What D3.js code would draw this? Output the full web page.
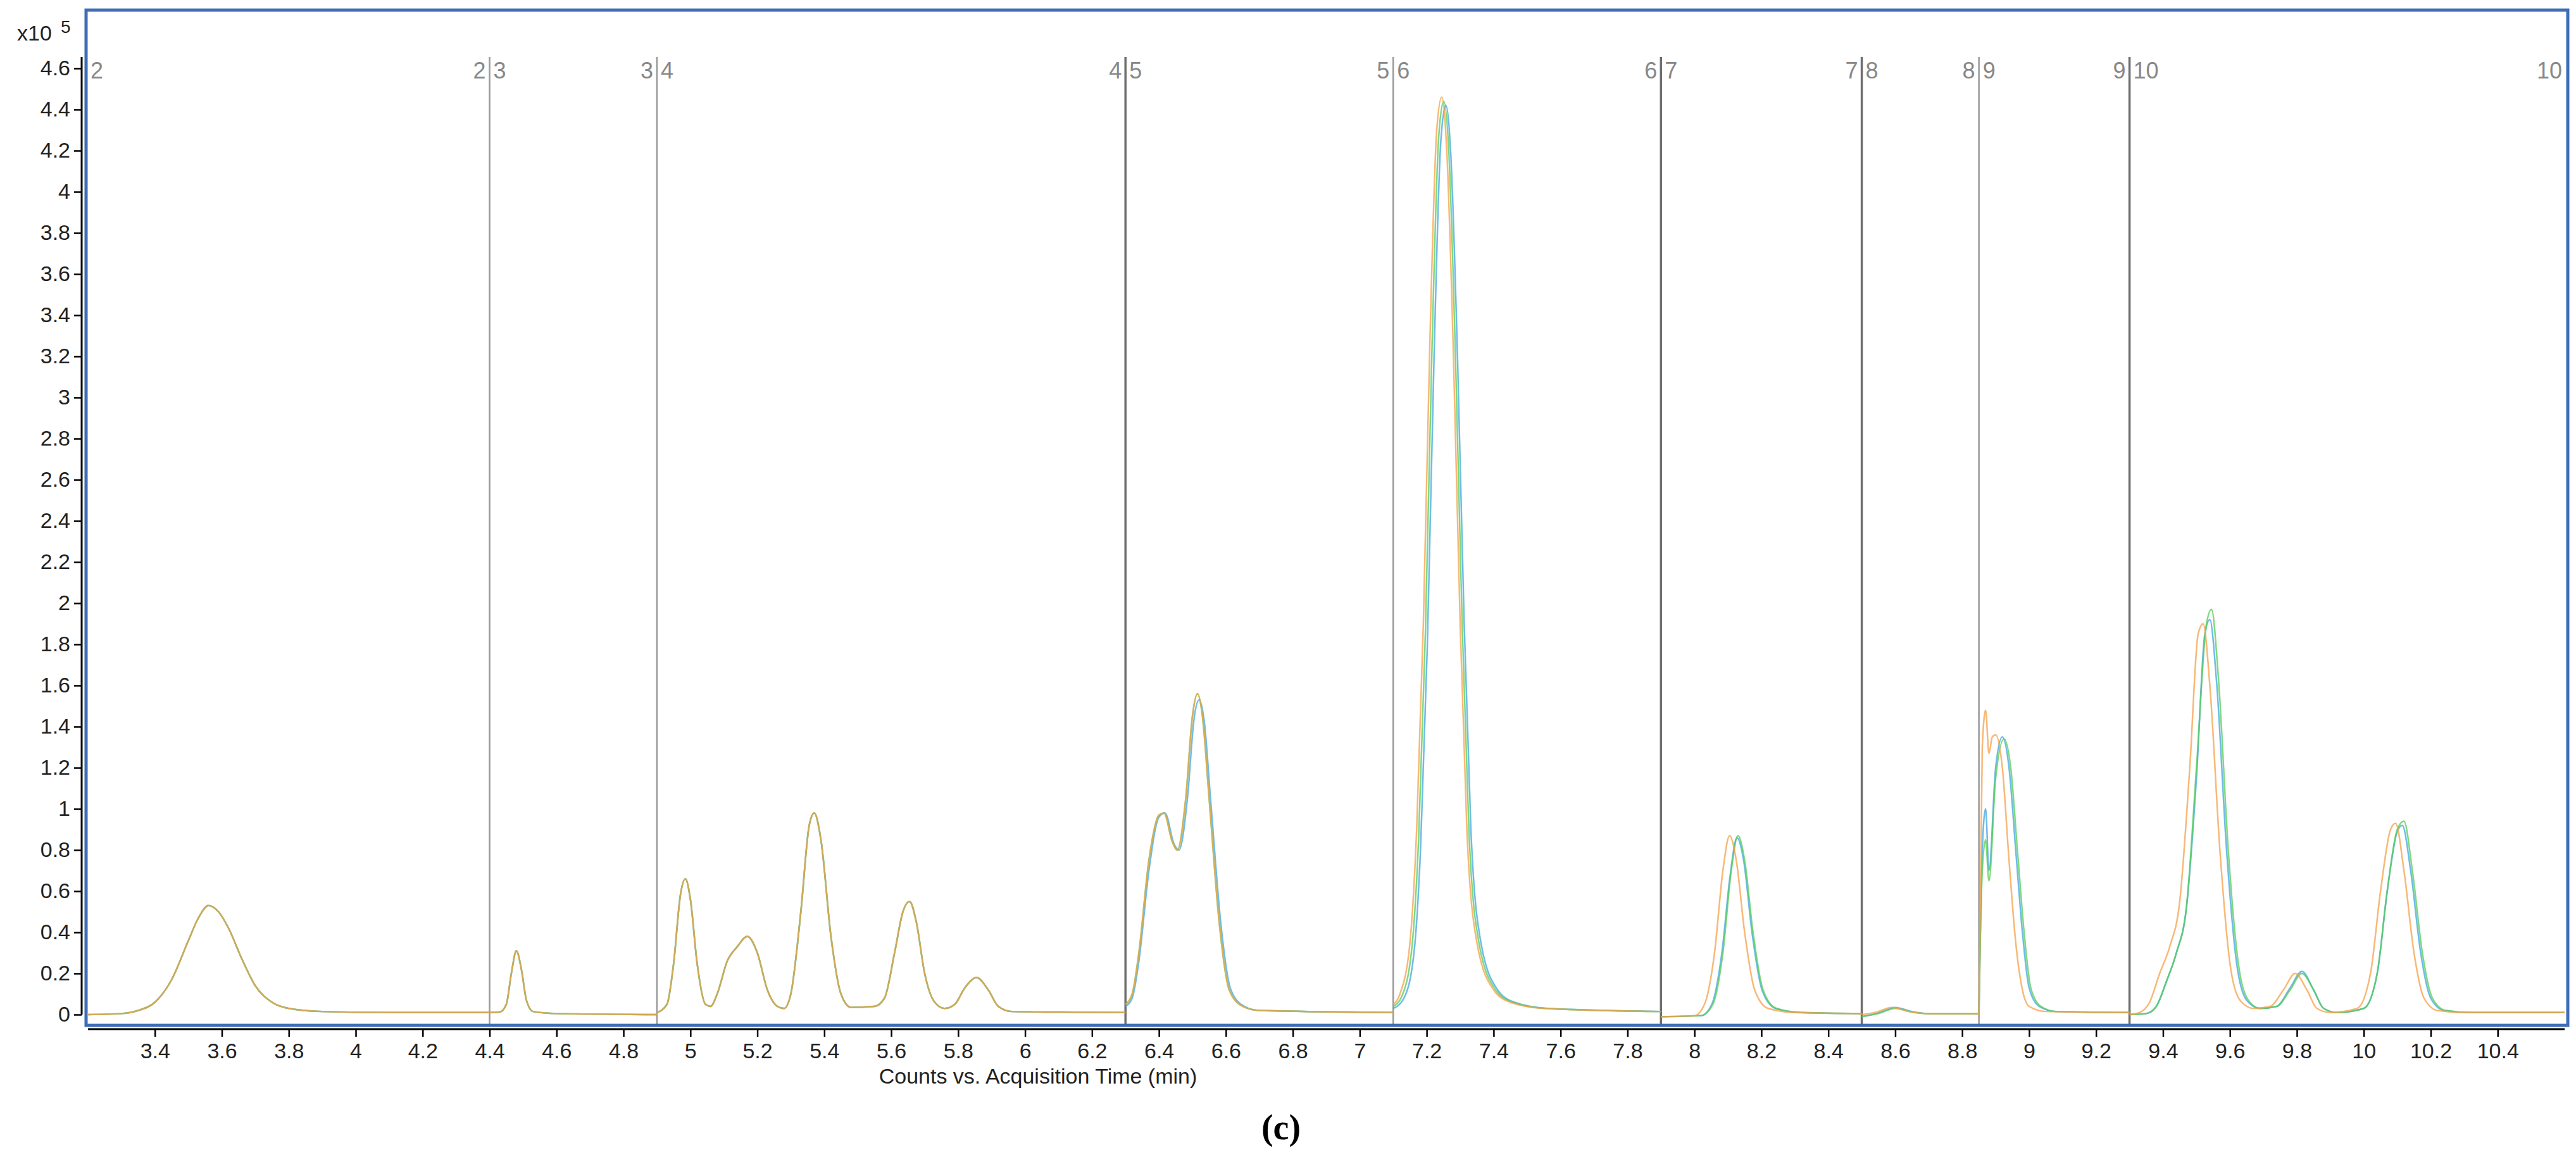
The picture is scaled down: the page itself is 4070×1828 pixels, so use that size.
<!DOCTYPE html>
<html>
<head>
<meta charset="utf-8">
<script src="https://cdn.jsdelivr.net/npm/d3@7/dist/d3.min.js"></script>
<style>
  body { margin: 0; background: #fff; }
  text { font-family: "Liberation Sans", Arial, sans-serif; }
</style>
</head>
<body>
<svg id="chart" width="4070" height="1828"></svg>
<script>
'use strict';

// segment boundaries (min) and their numbers
var boundaries = [4.4, 4.9, 6.3, 7.1, 7.9, 8.5, 8.85, 9.3];
var darkBoundaries = [6.3, 7.9, 8.5, 9.3];
var xTicks = d3.range(3.4, 10.41, 0.2);
var yTicks = d3.range(0, 4.61, 0.2);

// traces, [time (min), counts x10^5], one array per segment
var common1 = [[3.2,0.0],[3.3,0.005],[3.35,0.02],[3.4,0.06],[3.45,0.17],[3.5,0.36],[3.53,0.47],[3.56,0.53],[3.59,0.5],[3.62,0.42],[3.66,0.27],[3.7,0.14],[3.75,0.06],[3.8,0.03],[3.9,0.015],[4.1,0.01],[4.4,0.01]];
var common2 = [[4.4,0.01],[4.43,0.012],[4.45,0.05],[4.465,0.2],[4.48,0.31],[4.495,0.22],[4.51,0.07],[4.53,0.015],[4.6,0.005],[4.9,0.0]];
var common3 = [[4.9,0.01],[4.93,0.05],[4.95,0.25],[4.97,0.58],[4.985,0.66],[5.0,0.56],[5.02,0.25],[5.045,0.05],[5.06,0.04],[5.08,0.1],[5.11,0.26],[5.14,0.33],[5.17,0.38],[5.2,0.3],[5.23,0.12],[5.26,0.04],[5.28,0.03],[5.3,0.1],[5.33,0.5],[5.355,0.92],[5.37,0.98],[5.39,0.85],[5.42,0.38],[5.45,0.1],[5.48,0.035],[5.55,0.04],[5.58,0.08],[5.61,0.3],[5.635,0.5],[5.655,0.55],[5.675,0.45],[5.7,0.2],[5.73,0.06],[5.76,0.03],[5.79,0.05],[5.82,0.13],[5.855,0.18],[5.89,0.12],[5.92,0.04],[5.96,0.015],[6.1,0.012],[6.3,0.01]];
var common4 = [[6.3,0.05],[6.32,0.1],[6.34,0.3],[6.37,0.75],[6.4,0.97],[6.415,0.98],[6.44,0.84],[6.455,0.8],[6.48,1.05],[6.5,1.45],[6.515,1.56],[6.53,1.45],[6.55,1.05],[6.58,0.45],[6.61,0.12],[6.65,0.04],[6.7,0.02],[7.1,0.01]];
var blue4 = [[6.3,0.04],[6.32,0.08],[6.34,0.26],[6.37,0.7],[6.4,0.96],[6.418,0.98],[6.445,0.83],[6.46,0.8],[6.485,1.05],[6.505,1.44],[6.52,1.53],[6.535,1.43],[6.555,1.03],[6.585,0.44],[6.615,0.12],[6.655,0.04],[6.7,0.02],[7.1,0.01]];

var orange5 = [[7.1,0.05],[7.12,0.1],[7.15,0.35],[7.17,0.9],[7.19,1.9],[7.21,3.3],[7.23,4.3],[7.245,4.46],[7.26,4.2],[7.28,3.2],[7.3,1.9],[7.32,0.9],[7.35,0.35],[7.4,0.12],[7.45,0.06],[7.55,0.03],[7.9,0.015]];
var green5 = [[7.1,0.04],[7.126,0.09],[7.156,0.33],[7.176,0.86],[7.196,1.85],[7.216,3.25],[7.236,4.27],[7.251,4.44],[7.266,4.2],[7.286,3.2],[7.306,1.9],[7.326,0.9],[7.356,0.35],[7.406,0.12],[7.456,0.06],[7.556,0.03],[7.9,0.015]];
var blue5 = [[7.1,0.03],[7.132,0.08],[7.162,0.3],[7.182,0.82],[7.202,1.8],[7.222,3.2],[7.242,4.24],[7.257,4.42],[7.272,4.18],[7.292,3.2],[7.312,1.9],[7.332,0.9],[7.362,0.35],[7.412,0.12],[7.462,0.06],[7.562,0.03],[7.9,0.015]];

var orange6 = [[7.9,-0.01],[8.0,-0.005],[8.03,0.05],[8.06,0.3],[8.085,0.7],[8.105,0.87],[8.125,0.75],[8.15,0.4],[8.18,0.12],[8.22,0.03],[8.3,0.01],[8.5,0.005]];
var green6 = [[7.9,-0.01],[8.02,-0.005],[8.055,0.05],[8.085,0.3],[8.11,0.7],[8.13,0.87],[8.15,0.75],[8.175,0.4],[8.205,0.12],[8.245,0.03],[8.32,0.01],[8.5,0.005]];
var blue6 = [[7.9,-0.01],[8.02,-0.005],[8.052,0.05],[8.082,0.3],[8.107,0.68],[8.127,0.86],[8.147,0.75],[8.172,0.4],[8.202,0.12],[8.242,0.03],[8.32,0.01],[8.5,0.005]];

var orange7 = [[8.5,0.0],[8.54,0.01],[8.59,0.035],[8.64,0.015],[8.7,0.005],[8.85,0.005]];
var green7 = [[8.5,-0.01],[8.55,0.005],[8.6,0.03],[8.65,0.012],[8.7,0.004],[8.85,0.004]];
var blue7 = [[8.5,-0.01],[8.55,0.008],[8.6,0.035],[8.65,0.015],[8.7,0.005],[8.85,0.004]];

var orange8 = [[8.85,0.0],[8.86,1.3],[8.87,1.48],[8.88,1.27],[8.89,1.35],[8.9,1.36],[8.92,1.2],[8.94,0.75],[8.96,0.35],[8.98,0.12],[9.0,0.04],[9.05,0.015],[9.3,0.01]];
var green8 = [[8.85,0.0],[8.86,0.7],[8.87,0.85],[8.88,0.65],[8.9,1.15],[8.925,1.34],[8.945,1.2],[8.965,0.8],[8.985,0.4],[9.005,0.13],[9.035,0.04],[9.08,0.015],[9.3,0.01]];
var blue8 = [[8.85,0.0],[8.86,0.8],[8.87,1.0],[8.88,0.7],[8.9,1.2],[8.92,1.35],[8.94,1.2],[8.96,0.8],[8.98,0.4],[9.0,0.13],[9.03,0.04],[9.08,0.015],[9.3,0.01]];

var orange9 = [[9.3,0.0],[9.33,0.01],[9.36,0.06],[9.39,0.2],[9.42,0.33],[9.45,0.55],[9.48,1.2],[9.505,1.85],[9.52,1.9],[9.54,1.6],[9.57,0.8],[9.6,0.25],[9.63,0.07],[9.67,0.03],[9.72,0.04],[9.76,0.12],[9.795,0.2],[9.83,0.12],[9.86,0.03],[9.9,0.01],[9.98,0.03],[10.02,0.2],[10.05,0.6],[10.08,0.9],[10.095,0.93],[10.12,0.7],[10.15,0.3],[10.18,0.08],[10.22,0.02],[10.3,0.01],[10.6,0.01]];
var green9 = [[9.3,0.0],[9.35,0.005],[9.38,0.04],[9.41,0.16],[9.44,0.3],[9.47,0.52],[9.5,1.2],[9.53,1.9],[9.545,1.97],[9.565,1.65],[9.595,0.8],[9.625,0.25],[9.655,0.07],[9.69,0.03],[9.74,0.04],[9.78,0.12],[9.815,0.2],[9.85,0.12],[9.88,0.03],[9.92,0.01],[10.0,0.03],[10.04,0.2],[10.07,0.6],[10.1,0.9],[10.12,0.94],[10.145,0.7],[10.175,0.3],[10.205,0.08],[10.245,0.02],[10.32,0.01],[10.6,0.01]];
var blue9 = [[9.3,0.0],[9.35,0.005],[9.38,0.04],[9.41,0.16],[9.44,0.3],[9.47,0.52],[9.5,1.15],[9.525,1.85],[9.54,1.92],[9.56,1.62],[9.59,0.8],[9.62,0.25],[9.65,0.07],[9.69,0.03],[9.74,0.04],[9.78,0.13],[9.815,0.21],[9.85,0.12],[9.88,0.03],[9.92,0.01],[10.0,0.03],[10.04,0.2],[10.07,0.6],[10.1,0.89],[10.115,0.92],[10.14,0.7],[10.17,0.3],[10.2,0.08],[10.24,0.02],[10.32,0.01],[10.6,0.01]];

var traces = [
    {color: '#3fa6e0', segs: [common1, common2, common3, blue4, blue5, blue6, blue7, blue8, blue9]},
    {color: '#55cc55', segs: [common1, common2, common3, common4, green5, green6, green7, green8, green9]},
    {color: '#f5a04a', segs: [common1, common2, common3, common4, orange5, orange6, orange7, orange8, orange9]}
];

var svg = d3.select('#chart');
var x = d3.scaleLinear().domain([3.2, 10.6]).range([139, 4052]);
var y = d3.scaleLinear().domain([0, 4.6]).range([1603, 108]);
var yTop = 90, yBottom = 1620;

// axes
var xAxis = svg.append('g').attr('transform', 'translate(0,1626)')
    .call(d3.axisBottom(x).tickValues(xTicks).tickSize(12).tickSizeOuter(0).tickPadding(10)
        .tickFormat(d3.format('~g')));
var yAxis = svg.append('g').attr('transform', 'translate(129,0)')
    .call(d3.axisLeft(y).tickValues(yTicks).tickSize(12).tickSizeOuter(0).tickPadding(6)
        .tickFormat(d3.format('~g')));
xAxis.select('.domain').attr('d', 'M139,0H4052').attr('stroke', '#000').attr('stroke-width', 3);
yAxis.select('.domain').attr('d', 'M0,' + yTop + 'V1603').attr('stroke', '#000').attr('stroke-width', 3);
svg.selectAll('.tick line').attr('stroke', '#000').attr('stroke-width', 2.5);
svg.selectAll('.tick text').attr('font-size', 34).attr('fill', '#222')
    .attr('font-family', '"Liberation Sans", Arial, sans-serif');

// segment separators
svg.selectAll('line.seg').data(boundaries).enter().append('line')
    .attr('x1', function(d) { return x(d); }).attr('x2', function(d) { return x(d); })
    .attr('y1', yTop).attr('y2', yBottom)
    .attr('stroke', function(d) { return darkBoundaries.indexOf(d) >= 0 ? '#6e6e6e' : '#999'; })
    .attr('stroke-width', function(d) { return darkBoundaries.indexOf(d) >= 0 ? 3.5 : 2.5; });

var lbl = svg.append('g').attr('font-size', 36).attr('fill', '#888');
boundaries.forEach(function(b, i) {
    lbl.append('text').attr('x', x(b) - 6).attr('y', 124).attr('text-anchor', 'end').text(i + 2);
    lbl.append('text').attr('x', x(b) + 6).attr('y', 124).text(i + 3);
});
lbl.append('text').attr('x', 143).attr('y', 124).text('2');
lbl.append('text').attr('x', 4048).attr('y', 124).attr('text-anchor', 'end').text('10');

// traces
var line = d3.line().x(function(d) { return x(d[0]); }).y(function(d) { return y(d[1]); })
    .curve(d3.curveMonotoneX);
traces.forEach(function(t) {
    svg.append('g').selectAll('path').data(t.segs).enter().append('path')
        .attr('d', line).attr('fill', 'none')
        .attr('stroke', t.color).attr('stroke-width', 2.5).attr('stroke-opacity', 0.75);
});

// frame
svg.append('rect').attr('x', 136).attr('y', 16).attr('width', 3921).attr('height', 1604)
    .attr('fill', 'none').attr('stroke', '#3f6db6').attr('stroke-width', 5);

// texts
svg.append('text').attr('x', 27).attr('y', 64).attr('font-size', 34).attr('fill', '#222').text('x10');
svg.append('text').attr('x', 96).attr('y', 52).attr('font-size', 28).attr('fill', '#222').text('5');
svg.append('text').attr('x', 1640).attr('y', 1712).attr('text-anchor', 'middle')
    .attr('font-size', 34).attr('fill', '#222').text('Counts vs. Acquisition Time (min)');
svg.append('text').attr('x', 2024).attr('y', 1800).attr('text-anchor', 'middle')
    .attr('font-size', 56).attr('font-weight', 'bold')
    .style('font-family', '"Liberation Serif", "DejaVu Serif", serif').text('(c)');
</script>
</body>
</html>
